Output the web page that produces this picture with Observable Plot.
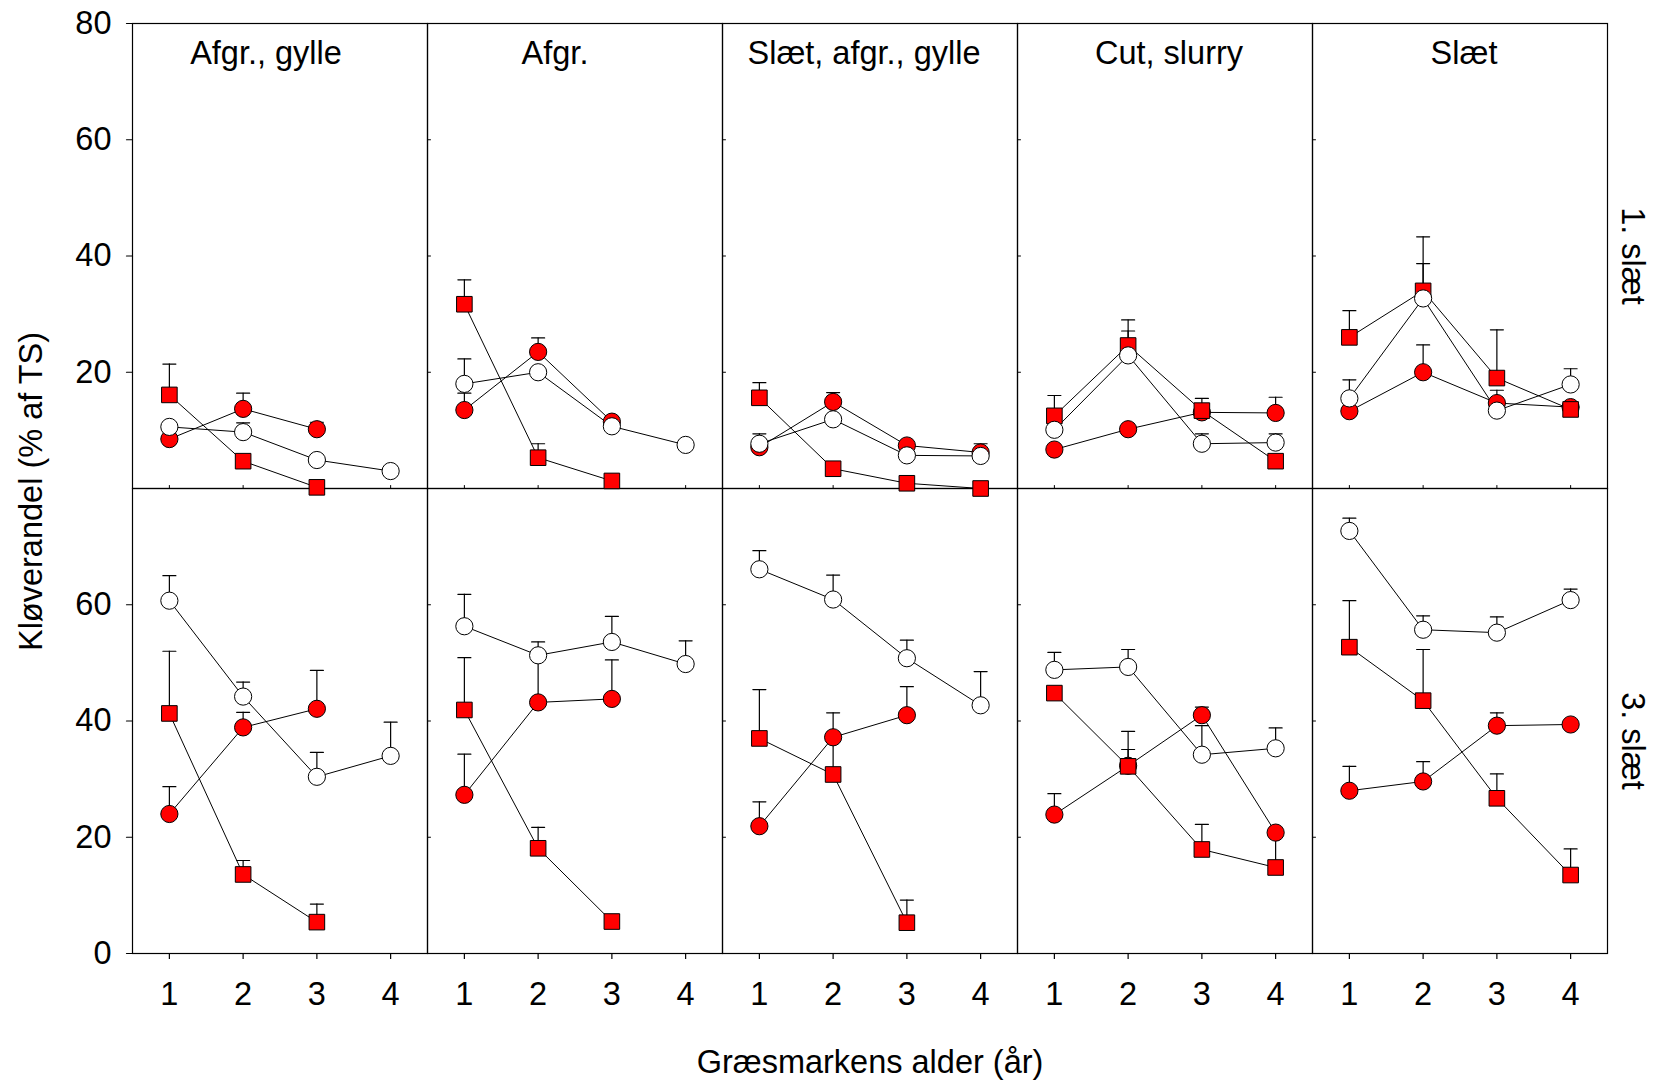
<!DOCTYPE html>
<html><head><meta charset="utf-8">
<script src="https://cdn.jsdelivr.net/npm/d3@7"></script>
<script src="https://cdn.jsdelivr.net/npm/@observablehq/plot@0.6"></script>
<style>html,body{margin:0;padding:0;background:#fff;} svg{display:block}</style>
</head><body><div id="chart"></div>
<script>
const treatments = ["Afgr., gylle", "Afgr.", "Slæt, afgr., gylle", "Cut, slurry", "Slæt"];
const cuts = ["1. slæt", "3. slæt"];
const ages = [1, 2, 3, 4];
const yTicks1 = [20, 40, 60, 80];
const yTicks3 = [0, 20, 40, 60];
const xLabel = "Græsmarkens alder (år)";
const yLabel = "Kløverandel (% af TS)";

// 1. slæt — rows: treatments, columns: age 1..4
const sq1 = [[16.1, 4.7, 0.2, null],[31.7, 5.3, 1.3, null],[15.6, 3.4, 0.9, 0.0],[12.5, 24.6, 13.4, 4.7],[26.0, 34.0, 19.0, 13.6]];
const sq1Err = [[21.4, null, null, null],[35.9, 7.7, null, null],[18.2, null, null, null],[16.0, 29.0, 15.5, null],[30.6, 43.3, 27.3, null]];
const rc1 = [[8.5, 13.7, 10.2, null],[13.5, 23.5, 11.5, null],[7.1, 14.9, 7.4, 6.2],[6.7, 10.2, 13.1, 13.0],[13.3, 20.0, 14.7, 14.0]];
const rc1Err = [[null, 16.4, 11.4, null],[16.4, 25.9, 12.3, null],[null, 16.5, null, null],[null, null, null, 15.7],[null, 24.7, 16.9, null]];
const wc1 = [[10.6, 9.7, 4.9, 3.0],[18.0, 20.0, 10.7, 7.5],[7.7, 11.9, 5.7, 5.6],[10.1, 22.9, 7.7, 7.9],[15.5, 32.7, 13.4, 17.9]];
const wc1Err = [[null, 11.3, null, null],[22.3, null, null, null],[9.4, null, null, 7.7],[null, 27.1, 9.4, 9.4],[18.7, 38.7, null, 20.6]];

// 3. slæt
const sq3 = [[41.3, 13.6, 5.4, null],[41.9, 18.1, 5.5, null],[37.0, 30.8, 5.3, null],[44.8, 32.2, 17.9, 14.8],[52.7, 43.5, 26.7, 13.5]];
const sq3Err = [[52.0, 16.0, 8.5, null],[50.9, 21.7, null, null],[45.4, 36.5, 9.2, null],[null, 35.1, 22.2, 20.6],[60.7, 52.3, 30.9, 18.0]];
const rc3 = [[24.0, 38.9, 42.1, null],[27.3, 43.2, 43.8, null],[21.9, 37.2, 41.0, null],[23.9, 32.3, 41.0, 20.8],[28.0, 29.6, 39.2, 39.4]];
const rc3Err = [[28.7, 41.5, 48.7, null],[34.3, 51.0, 50.5, null],[26.1, 41.4, 45.9, null],[27.5, 38.2, 42.4, null],[32.2, 33.0, 41.4, null]];
const wc3 = [[60.7, 44.2, 30.4, 34.0],[56.3, 51.3, 53.6, 49.8],[66.1, 60.9, 50.8, 42.7],[48.8, 49.3, 34.2, 35.3],[72.7, 55.7, 55.2, 60.8]];
const wc3Err = [[65.0, 46.7, 34.6, 39.8],[61.8, 53.6, 58.0, 53.8],[69.3, 65.1, 53.9, 48.5],[51.8, 52.3, 39.2, 38.8],[74.9, 58.1, 57.9, 62.7]];

// title horizontal nudges (px) to mimic the original placement
const titleDx = [-14, -20, -6, 4, 4];

function rows(series, byCut) {
  const out = [];
  byCut.forEach(([cut, vals, errs]) => {
    vals.forEach((arr, ti) => arr.forEach((v, ai) => {
      if (v == null) return;
      out.push({series, cut, treat: treatments[ti], age: ages[ai], v, err: errs[ti][ai]});
    }));
  });
  return out;
}
const squares = rows("sq", [[cuts[0], sq1, sq1Err], [cuts[1], sq3, sq3Err]]);
const redCircles = rows("rc", [[cuts[0], rc1, rc1Err], [cuts[1], rc3, rc3Err]]);
const whiteCircles = rows("wc", [[cuts[0], wc1, wc1Err], [cuts[1], wc3, wc3Err]]);
const all = [...squares, ...redCircles, ...whiteCircles];
const errs = all.filter(d => d.err != null);

const yTickRows = [...yTicks1.map(v => ({cut: cuts[0], treat: treatments[0], v})), ...yTicks3.map(v => ({cut: cuts[1], treat: treatments[0], v}))];
const innerY = [];
treatments.slice(1).forEach(t => cuts.forEach(c => [20, 40, 60].forEach(v => innerY.push({treat: t, cut: c, v}))));
const innerX = [];
treatments.forEach(t => ages.forEach(a => innerX.push({treat: t, cut: cuts[0], age: a})));
const last = treatments[treatments.length - 1];

const tickLeft = {draw(c, l) { c.moveTo(0, 0); c.lineTo(-l, 0); }};
const tickRight = {draw(c, l) { c.moveTo(0, 0); c.lineTo(l, 0); }};
const tickUp = {draw(c, l) { c.moveTo(0, 0); c.lineTo(0, -l); }};
const capShape = {draw(c, l) { c.moveTo(-l / 2, 0); c.lineTo(l / 2, 0); }};

const FONT = "'Liberation Sans', Arial, Helvetica, sans-serif";
const FS = 32.5;

const titleMarks = treatments.map((t, i) =>
  Plot.text([{treat: t, cut: cuts[0]}], {fx: "treat", fy: "cut", text: "treat", frameAnchor: "top", lineAnchor: "middle", textAnchor: "middle", dy: 30, dx: titleDx[i], fontSize: FS})
);

const chart = Plot.plot({
  width: 1671,
  height: 1081,
  marginLeft: 131, marginRight: 63, marginTop: 23, marginBottom: 128,
  style: {fontFamily: FONT, background: "white", color: "black"},
  x: {domain: [0.5, 4.5], axis: null},
  y: {domain: [0, 80], axis: null},
  fx: {domain: treatments, padding: 0, axis: null},
  fy: {domain: cuts, padding: 0, axis: null},
  marks: [
    Plot.frame({stroke: "black", strokeWidth: 1.2}),
    // left y axis (outer)
    Plot.vector(yTickRows, {fx: "treat", fy: "cut", y: "v", frameAnchor: "left", length: 6, shape: tickLeft, anchor: "start", stroke: "black", fill: "none", strokeWidth: 1.2}),
    Plot.text(yTickRows, {fx: "treat", fy: "cut", y: "v", text: d => String(d.v), frameAnchor: "left", textAnchor: "end", lineAnchor: "middle", dx: -21, fontSize: FS}),
    // inner minor ticks
    Plot.vector(innerY, {fx: "treat", fy: "cut", y: "v", frameAnchor: "left", length: 3, shape: tickRight, anchor: "start", stroke: "black", fill: "none", strokeWidth: 1}),
    Plot.vector(innerX, {fx: "treat", fy: "cut", x: "age", frameAnchor: "bottom", length: 3, shape: tickUp, anchor: "start", stroke: "black", fill: "none", strokeWidth: 1}),
    // bottom x axis
    Plot.axisX({ticks: ages, tickFormat: d => String(d), tickSize: 6, tickPadding: 22, fontSize: FS, label: null, strokeWidth: 1.2}),
    // facet titles and row labels
    ...titleMarks,
    Plot.text([{cut: cuts[0], treat: last}], {fx: "treat", fy: "cut", text: "cut", frameAnchor: "right", textAnchor: "middle", lineAnchor: "middle", dx: 25, rotate: 90, fontSize: FS}),
    Plot.text([{cut: cuts[1], treat: last}], {fx: "treat", fy: "cut", text: "cut", frameAnchor: "right", textAnchor: "middle", lineAnchor: "middle", dx: 25, dy: 20, rotate: 90, fontSize: FS}),
    // axis titles
    Plot.text([yLabel], {facet: "super", frameAnchor: "left", textAnchor: "middle", lineAnchor: "middle", dx: -101, dy: 3, rotate: -90, fontSize: FS}),
    Plot.text([xLabel], {facet: "super", frameAnchor: "bottom", textAnchor: "middle", lineAnchor: "middle", dy: 109, fontSize: FS}),
    // connecting lines
    Plot.line(all, {fx: "treat", fy: "cut", x: "age", y: "v", z: "series", stroke: "black", strokeWidth: 1}),
    // error bars
    Plot.ruleX(errs, {fx: "treat", fy: "cut", x: "age", y1: "v", y2: "err", stroke: "black", strokeWidth: 1.2}),
    Plot.vector(errs, {fx: "treat", fy: "cut", x: "age", y: "err", length: 13, shape: capShape, anchor: "start", stroke: "black", fill: "none", strokeWidth: 1.2}),
    // markers
    Plot.dot(redCircles, {fx: "treat", fy: "cut", x: "age", y: "v", r: 8.6, symbol: "circle", fill: "#ff0000", stroke: "black", strokeWidth: 1}),
    Plot.dot(squares, {fx: "treat", fy: "cut", x: "age", y: "v", r: 8.8, symbol: "square", fill: "#ff0000", stroke: "black", strokeWidth: 1}),
    Plot.dot(whiteCircles, {fx: "treat", fy: "cut", x: "age", y: "v", r: 8.6, symbol: "circle", fill: "white", stroke: "black", strokeWidth: 1})
  ]
});
document.getElementById("chart").appendChild(chart);
</script>
</body></html>
